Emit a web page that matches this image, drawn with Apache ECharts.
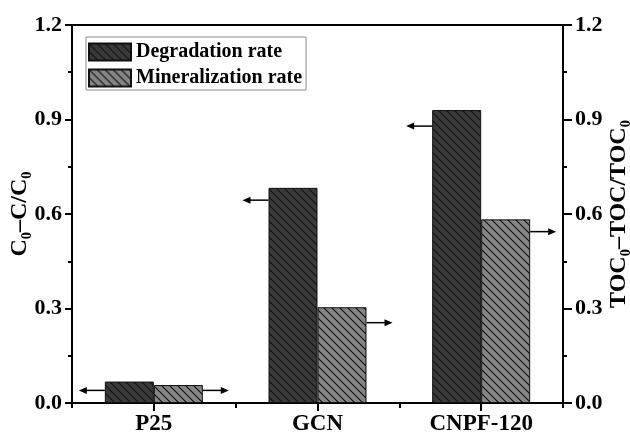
<!DOCTYPE html>
<html>
<head>
<meta charset="utf-8">
<script src="https://cdn.jsdelivr.net/npm/echarts@6/dist/echarts.min.js"></script>
<style>html,body{margin:0;padding:0;background:#fff}#c{width:630px;height:441px}</style>
</head>
<body>
<div id="c"></div>
<script>
const categories = ['P25', 'GCN', 'CNPF-120'];
const degradation = [0.068, 0.683, 0.930];
const mineralization = [0.057, 0.304, 0.583];
const yTicks = [0, 0.3, 0.6, 0.9, 1.2];
// arrow annotation heights (value units): [left arrow, right arrow]
const arrowLeftY = [0.040, 0.644, 0.879];
const arrowRightY = [0.040, 0.255, 0.544];

const FONT = '"Liberation Serif","Times New Roman",serif';

function hatch(bg) {
  const s = 8;
  const c = document.createElement('canvas');
  c.width = s; c.height = s;
  const g = c.getContext('2d');
  g.fillStyle = bg; g.fillRect(0, 0, s, s);
  g.strokeStyle = '#111'; g.lineWidth = 1.1;
  g.beginPath();
  g.moveTo(-1, -1); g.lineTo(s + 1, s + 1);
  g.moveTo(-1, s - 1); g.lineTo(1, s + 1);
  g.moveTo(s - 1, -1); g.lineTo(s + 1, 1);
  g.stroke();
  return c;
}

const BAR_W = 49;
const chart = echarts.init(document.getElementById('c'), null, {renderer: 'canvas'});

const arrowData = categories.map((c, i) => [i, arrowLeftY[i], arrowRightY[i]]);

function arrow(x1, y, dir) {
  const len = 26, head = 8, hw = 3.5;
  const x2 = x1 + dir * len;
  return [
    {type: 'line', shape: {x1: x1, y1: y, x2: x2 - dir * head * 0.5, y2: y}, style: {stroke: '#000', lineWidth: 1.5}},
    {type: 'polygon', shape: {points: [[x2, y], [x2 - dir * head, y - hw], [x2 - dir * head, y + hw]]}, style: {fill: '#000'}}
  ];
}

const yAxisCommon = {
  type: 'value', min: 0, max: 1.2, interval: 0.3,
  axisLine: {show: true, lineStyle: {color: '#000', width: 2}},
  axisTick: {show: true, inside: false, length: 7, lineStyle: {color: '#000', width: 2}},
  minorTick: {show: true, splitNumber: 2, length: 4, lineStyle: {color: '#000', width: 2}},
  splitLine: {show: false},
  axisLabel: {color: '#000', fontFamily: FONT, fontWeight: 'bold', fontSize: 22, margin: 10,
    formatter: v => yTicks.some(t => Math.abs(t - v) < 1e-9) ? v.toFixed(1) : ''},
  nameLocation: 'middle', nameRotate: 90, nameMoveOverlap: false,
  nameTextStyle: {color: '#000', fontFamily: FONT, fontWeight: 'bold', fontSize: 24}
};

chart.setOption({
  animation: false,
  backgroundColor: '#fff',
  grid: {left: 72, right: 67, top: 25, bottom: 38, containLabel: false, outerBoundsMode: 'none',
    show: true, borderColor: '#000', borderWidth: 2, backgroundColor: 'transparent'},
  legend: {
    data: ['Degradation rate', 'Mineralization rate'],
    orient: 'vertical', left: 86, top: 37,
    backgroundColor: '#fff', borderColor: '#8a8a8a', borderWidth: 1,
    padding: [5, 4, 2, 2], itemGap: 6,
    itemWidth: 42, itemHeight: 17, icon: 'rect',
    textStyle: {color: '#000', fontFamily: FONT, fontWeight: 'bold', fontSize: 20}
  },
  xAxis: [
    {
      type: 'category', data: categories, position: 'bottom',
      axisLine: {show: true, lineStyle: {color: '#000', width: 2}},
      axisTick: {show: true, alignWithLabel: true, length: 8, lineStyle: {color: '#000', width: 2}},
      axisLabel: {color: '#000', fontFamily: FONT, fontWeight: 'bold', fontSize: 23, margin: 10}
    },
    {
      type: 'category', data: categories, position: 'bottom',
      axisLine: {show: false},
      axisTick: {show: true, length: 5, lineStyle: {color: '#000', width: 2}},
      axisLabel: {show: false}
    }
  ],
  yAxis: [
    Object.assign({}, yAxisCommon, {position: 'left', name: 'C₀–C/C₀', nameGap: 40}),
    Object.assign({}, yAxisCommon, {position: 'right', name: 'TOC₀–TOC/TOC₀', nameGap: 44,
      axisTick: {show: true, inside: false, length: 9, lineStyle: {color: '#000', width: 2}},
      axisLabel: Object.assign({}, yAxisCommon.axisLabel, {margin: 12})})
  ],
  series: [
    {
      name: 'Degradation rate', type: 'bar', data: degradation, barWidth: BAR_W, barGap: '0%',
      itemStyle: {color: {image: hatch('#3a3a3a'), repeat: 'repeat'}, borderColor: '#111', borderWidth: 1}
    },
    {
      name: 'Mineralization rate', type: 'bar', data: mineralization, barWidth: BAR_W, barGap: '0%',
      yAxisIndex: 1,
      itemStyle: {color: {image: hatch('#858585'), repeat: 'repeat'}, borderColor: '#111', borderWidth: 1}
    },
    {
      type: 'custom', data: arrowData, z: 5, silent: true,
      renderItem: function (params, api) {
        const i = api.value(0);
        const pl = api.coord([i, api.value(1)]);
        const pr = api.coord([i, api.value(2)]);
        return {type: 'group', children: arrow(pl[0] - BAR_W, pl[1], -1).concat(arrow(pr[0] + BAR_W, pr[1], 1))};
      }
    }
  ]
});
</script>
</body>
</html>
